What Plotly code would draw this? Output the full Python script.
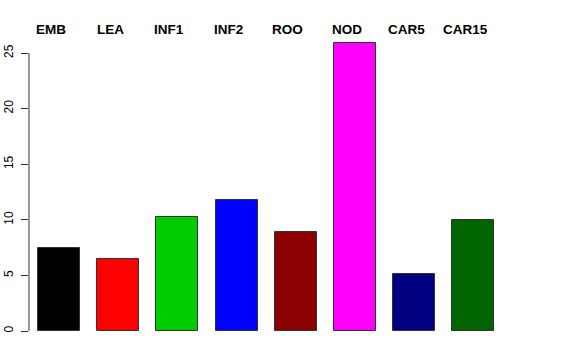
import plotly.graph_objects as go

categories = ["EMB", "LEA", "INF1", "INF2", "ROO", "NOD", "CAR5", "CAR15"]
values = [7.5, 6.5, 10.25, 11.8, 8.9, 25.9, 5.15, 9.97]
colors = ["#000000", "#FF0000", "#00CD00", "#0000FF", "#8B0000", "#FF00FF", "#000080", "#006400"]
y_ticks = [0, 5, 10, 15, 20, 25]

bar_w = 0.71
label_shift = -0.135
xs = list(range(len(categories)))

fig = go.Figure()
fig.add_trace(go.Bar(
    x=xs, y=values, width=bar_w,
    marker=dict(color=colors, line=dict(color="#333333", width=1)),
    showlegend=False, hoverinfo="skip",
))

for i, c in enumerate(categories):
    fig.add_annotation(
        x=i + label_shift, y=1.002, xref="x", yref="paper",
        text="<b>%s</b>" % c, showarrow=False,
        xanchor="center", yanchor="middle",
        font=dict(family="Liberation Sans, Arial, sans-serif", size=13.5, color="black"),
    )

# left axis line spanning 0..25 (R style)
fig.add_shape(type="line", xref="paper", yref="y", x0=0, x1=0, y0=0, y1=25,
              line=dict(color="#333333", width=1))

fig.update_layout(
    width=576, height=360,
    margin=dict(l=29, r=66, t=30, b=29, autoexpand=False),
    paper_bgcolor="white", plot_bgcolor="white",
    bargap=0,
    xaxis=dict(range=[-0.507, 7.62], showticklabels=False, showgrid=False,
               zeroline=False, showline=False, ticks="", automargin=False),
    yaxis=dict(range=[0, 27.07], tickvals=y_ticks, ticktext=[str(v) for v in y_ticks],
               tickangle=-90, ticks="outside", ticklen=7, tickcolor="#333333",
               ticklabelstandoff=3,
               showgrid=False, zeroline=False, showline=False, automargin=False,
               tickfont=dict(family="Liberation Sans, Arial, sans-serif", size=12, color="black")),
)

# remove the browser's default 8px body margin so the figure sits at the page corner
fig.write_html("out.html", config={"displayModeBar": False},
               post_script="document.body.style.margin='0';")
